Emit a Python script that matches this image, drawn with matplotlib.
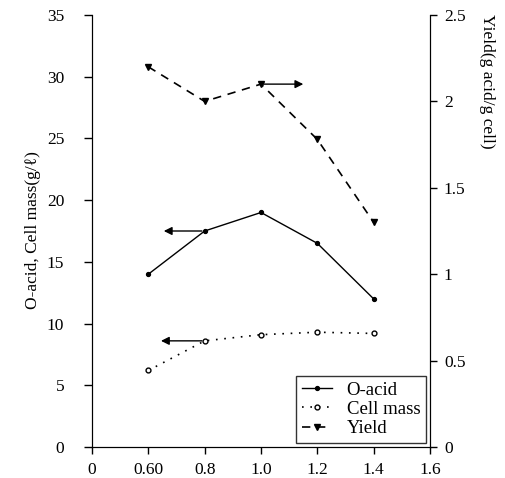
import matplotlib
matplotlib.use("Agg")
import matplotlib.pyplot as plt

plt.rcParams['font.family'] = ['Liberation Serif', 'DejaVu Serif']

# Data
x_vals = [0.6, 0.8, 1.0, 1.2, 1.4]
o_acid = [14.0, 17.5, 19.0, 16.5, 12.0]
cell_mass = [6.2, 8.6, 9.1, 9.3, 9.2]
yield_vals = [2.20, 2.00, 2.10, 1.78, 1.30]

x_ticks = [0.4, 0.6, 0.8, 1.0, 1.2, 1.4, 1.6]
x_tick_labels = ["0", "0.60", "0.8", "1.0", "1.2", "1.4", "1.6"]
left_ticks = [0, 5, 10, 15, 20, 25, 30, 35]
right_ticks = [0, 0.5, 1, 1.5, 2, 2.5]
right_tick_labels = ["0", "0.5", "1", "1.5", "2", "2.5"]

fig = plt.figure(figsize=(5.06, 4.78), dpi=100)
ax = fig.add_axes([92/506, 1-447/478, (430-92)/506, (447-15)/478])
ax2 = ax.twinx()

l1, = ax.plot(x_vals, o_acid, '-', color='black', lw=1.0, marker='o', ms=2.8,
              mfc='black', mec='black', label='O-acid')
l2, = ax.plot(x_vals, cell_mass, linestyle=(0, (1, 4)), color='black', lw=1.2,
              marker='o', ms=3.5, mfc='white', mec='black', mew=1.0, label='Cell mass')
l3, = ax2.plot(x_vals, yield_vals, linestyle=(0, (5, 4)), color='black', lw=1.2,
               marker='v', ms=4, mfc='black', mec='black', label='Yield')

ax.set_xlim(0.4, 1.6)
ax.set_ylim(0, 35)
ax2.set_ylim(0, 2.5)
ax.set_xticks(x_ticks)
ax.set_xticklabels(x_tick_labels)
ax.set_yticks(left_ticks)
ax2.set_yticks(right_ticks)
ax2.set_yticklabels(right_tick_labels)

for a in (ax, ax2):
    a.spines['top'].set_visible(False)
    a.tick_params(labelsize=12.5, direction='out', length=5, width=1)
ax.tick_params(axis='x', pad=6)
ax.tick_params(axis='y', pad=14, length=6)
ax2.tick_params(axis='y', pad=5)

# arrows indicating axes
arrow_kw = dict(arrowstyle='-|>', color='black', lw=1.0, mutation_scale=12)
ax.annotate('', xy=(0.645, o_acid[1]), xytext=(0.8, o_acid[1]), arrowprops=arrow_kw)
ax.annotate('', xy=(0.635, cell_mass[1]), xytext=(0.8, cell_mass[1]), arrowprops=arrow_kw)
ax2.annotate('', xy=(1.16, yield_vals[2]), xytext=(1.0, yield_vals[2]), arrowprops=arrow_kw)

fig.text(33/506, 1-230/478, 'O-acid, Cell mass(g/ℓ)', rotation=90, fontsize=12.5,
         ha='center', va='center')
fig.text(487/506, 1-14/478, 'Yield(g acid/g cell)', rotation=270, fontsize=12.5,
         ha='center', va='top')

leg = ax.legend(handles=[l1, l2, l3], loc='lower right',
                bbox_to_anchor=((426-92)/338, (447-443)/432),
                fontsize=13.5, frameon=True, fancybox=False, edgecolor='black',
                handlelength=1.6, borderpad=0.3, labelspacing=0.12,
                borderaxespad=0, handletextpad=0.8)
leg.get_frame().set_linewidth(1.0)

fig.savefig('out.png', dpi=100)
